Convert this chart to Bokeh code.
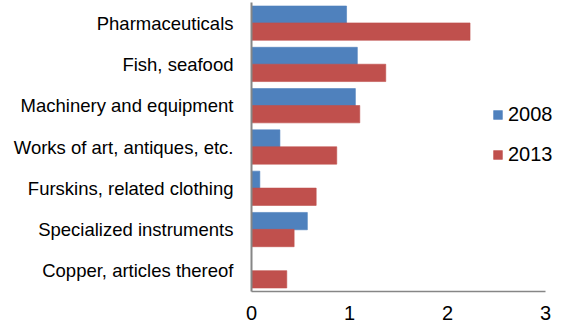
from bokeh.plotting import figure
from bokeh.models import ColumnDataSource, Range1d, FactorRange, Legend, LegendItem, FixedTicker
from bokeh.transform import dodge
from bokeh.embed import file_html
from bokeh.resources import INLINE

# Export categories, top to bottom
categories = [
    "Pharmaceuticals",
    "Fish, seafood",
    "Machinery and equipment",
    "Works of art, antiques, etc.",
    "Furskins, related clothing",
    "Specialized instruments",
    "Copper, articles thereof",
]
values_2008 = [0.97, 1.08, 1.06, 0.29, 0.085, 0.57, 0.0]
values_2013 = [2.23, 1.37, 1.105, 0.87, 0.66, 0.435, 0.36]
x_ticks = [0, 1, 2, 3]

BLUE = "#4F81BD"
RED = "#C0504D"
FONT = "Liberation Sans"

source = ColumnDataSource(dict(cat=categories, v2008=values_2008, v2013=values_2013))

# The frame runs a little past 3 so the legend has room on the right;
# the axis line itself stops at 3.
p = figure(
    width=564, height=329,
    y_range=FactorRange(factors=list(reversed(categories))),
    x_range=Range1d(0, 3.194),
    output_backend="svg", toolbar_location=None,
    min_border_left=251, min_border_right=0,
    min_border_top=2, min_border_bottom=38,
)

r08 = p.hbar(y=dodge("cat", 0.205, range=p.y_range), right="v2008", left=0, height=0.42,
             source=source, fill_color=BLUE, line_color=BLUE, line_alpha=0.6)
r13 = p.hbar(y=dodge("cat", -0.205, range=p.y_range), right="v2013", left=0, height=0.42,
             source=source, fill_color=RED, line_color=RED, line_alpha=0.6)

# Axes
p.xaxis.ticker = FixedTicker(ticks=x_ticks)
p.xaxis.bounds = (0, 3)
p.xaxis.major_tick_line_color = None
p.xaxis.minor_tick_line_color = None
p.xaxis.axis_line_color = "#868686"
p.xaxis.axis_line_width = 1.5
p.xaxis.major_label_text_font = FONT
p.xaxis.major_label_text_font_size = "20px"
p.xaxis.major_label_text_color = "#000000"
p.xaxis.major_label_standoff = 8

p.yaxis.major_tick_line_color = None
p.yaxis.minor_tick_line_color = None
p.yaxis.axis_line_color = "#868686"
p.yaxis.axis_line_width = 2
p.yaxis.major_label_text_font = FONT
p.yaxis.major_label_text_font_size = "18.5px"
p.yaxis.major_label_text_color = "#000000"
p.yaxis.major_label_standoff = 12

p.grid.visible = False
p.outline_line_color = None

legend = Legend(
    items=[LegendItem(label="2008", renderers=[r08]), LegendItem(label="2013", renderers=[r13])],
    location=(241, 125),
    orientation="vertical",
    glyph_width=11, glyph_height=11,
    label_text_font=FONT, label_text_font_size="20px", label_text_color="#000000",
    label_standoff=5, spacing=17, padding=0, margin=0,
    border_line_color=None, background_fill_alpha=0,
)
p.add_layout(legend, "center")

open("out.html", "w").write(file_html(p, INLINE))
